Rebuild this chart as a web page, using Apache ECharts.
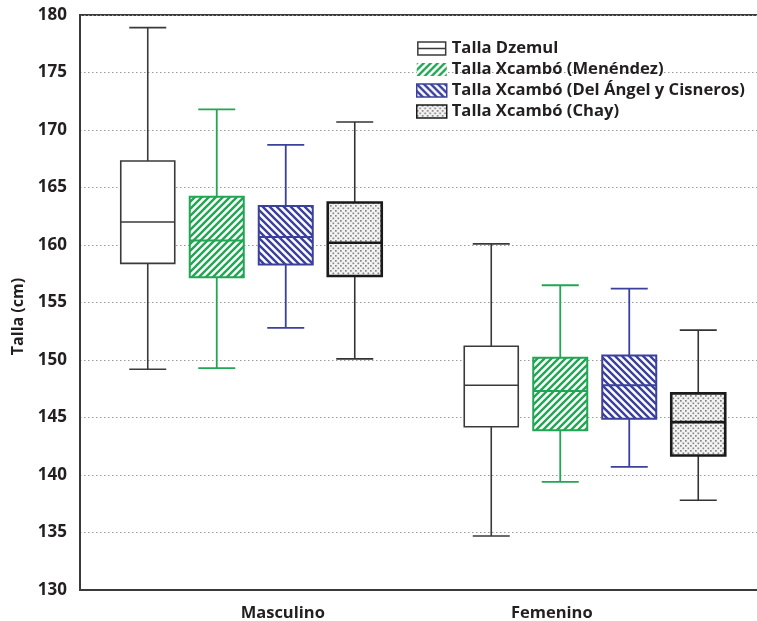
<!DOCTYPE html>
<html>
<head>
<meta charset="utf-8">
<script src="https://cdn.jsdelivr.net/npm/echarts@6/dist/echarts.min.js"></script>
<style>
html,body{margin:0;padding:0;background:#fff;}
#chart{width:757px;height:621px;}
</style>
</head>
<body>
<div id="chart"></div>
<script>
// ---- data ----
const categories = ['Masculino', 'Femenino'];
const seriesNames = ['Talla Dzemul', 'Talla Xcambó (Menéndez)', 'Talla Xcambó (Del Ángel y Cisneros)', 'Talla Xcambó (Chay)'];
// [min, Q1, median, Q3, max] per category
const dzemul   = [[149.2, 158.4, 162.0, 167.3, 178.9], [134.7, 144.2, 147.8, 151.2, 160.1]];
const menendez = [[149.3, 157.2, 160.4, 164.2, 171.8], [139.4, 143.9, 147.3, 150.2, 156.5]];
const delAngel = [[152.8, 158.3, 160.7, 163.4, 168.7], [140.7, 144.9, 147.8, 150.4, 156.2]];
const chay     = [[150.1, 157.3, 160.2, 163.7, 170.7], [137.8, 141.7, 144.6, 147.1, 152.6]];
const yTicks = [130, 135, 140, 145, 150, 155, 160, 165, 170, 175, 180];

// ---- styles ----
const FONT = '"Open Sans", sans-serif';
const TEXT = '#231f20';
const BOX_W = 54, CAP_W = 37;
const OFFSETS = [-104, -35, 34, 103];

function stripes(color, dir) {
  const s = 7, c = document.createElement('canvas');
  c.width = s; c.height = s;
  const x = c.getContext('2d');
  x.fillStyle = '#fff'; x.fillRect(0, 0, s, s);
  x.strokeStyle = color; x.lineWidth = 2.4;
  x.beginPath();
  if (dir === '/') {
    x.moveTo(0, s); x.lineTo(s, 0);
    x.moveTo(-1, 1); x.lineTo(1, -1);
    x.moveTo(s - 1, s + 1); x.lineTo(s + 1, s - 1);
  } else {
    x.moveTo(0, 0); x.lineTo(s, s);
    x.moveTo(-1, s - 1); x.lineTo(1, s + 1);
    x.moveTo(s - 1, -1); x.lineTo(s + 1, 1);
  }
  x.stroke();
  return { image: c, repeat: 'repeat' };
}
function dots() {
  const s = 5, c = document.createElement('canvas');
  c.width = s; c.height = s;
  const x = c.getContext('2d');
  x.fillStyle = '#f3f3f3'; x.fillRect(0, 0, s, s);
  x.fillStyle = '#858585';
  x.fillRect(0, 0, 1.7, 1.7);
  x.fillRect(2.5, 2.5, 1.7, 1.7);
  return { image: c, repeat: 'repeat' };
}

const STYLES = [
  { stroke: '#3a3a3a', fill: '#ffffff', box: 1.6, med: 1.6, wh: 1.6, boxStroke: '#3a3a3a' },
  { stroke: '#21a653', fill: stripes('#21a653', '/'), box: 2, med: 2, wh: 1.8, boxStroke: '#21a653' },
  { stroke: '#3b409c', fill: stripes('#3b409c', '\\'), box: 2, med: 2, wh: 1.8, boxStroke: '#3b409c' },
  { stroke: '#333333', fill: dots(), box: 2.6, med: 2.6, wh: 1.6, boxStroke: '#1a1a1a' }
];

function toData(arr) {
  return arr.map((v, i) => [i].concat(v));
}

function renderItem(params, api) {
  const st = STYLES[params.seriesIndex];
  const cat = api.value(0);
  const cx = api.coord([cat, 150])[0] + OFFSETS[params.seriesIndex];
  const y = k => api.coord([cat, api.value(k)])[1];
  const yMin = y(1), yQ1 = y(2), yMed = y(3), yQ3 = y(4), yMax = y(5);
  const hw = BOX_W / 2, cw = CAP_W / 2;
  const ls = { stroke: st.stroke, lineWidth: st.wh };
  return {
    type: 'group',
    children: [
      { type: 'line', shape: { x1: cx, y1: yMax, x2: cx, y2: yQ3 }, style: ls },
      { type: 'line', shape: { x1: cx, y1: yQ1, x2: cx, y2: yMin }, style: ls },
      { type: 'line', shape: { x1: cx - cw, y1: yMax, x2: cx + cw, y2: yMax }, style: ls },
      { type: 'line', shape: { x1: cx - cw, y1: yMin, x2: cx + cw, y2: yMin }, style: ls },
      { type: 'rect', shape: { x: cx - hw, y: yQ3, width: BOX_W, height: yQ1 - yQ3 },
        style: { fill: st.fill, stroke: st.boxStroke, lineWidth: st.box } },
      { type: 'line', shape: { x1: cx - hw, y1: yMed, x2: cx + hw, y2: yMed },
        style: { stroke: st.boxStroke, lineWidth: st.med } }
    ]
  };
}

const allData = [dzemul, menendez, delAngel, chay];

const chart = echarts.init(document.getElementById('chart'), null, { renderer: 'canvas' });
chart.setOption({
  animation: false,
  backgroundColor: '#ffffff',
  textStyle: { fontFamily: FONT },
  grid: { left: 80, top: 15, right: -10, bottom: 31, containLabel: false, outerBoundsMode: 'none',
          show: true, borderColor: '#3a3a3a', borderWidth: 2, backgroundColor: 'transparent' },
  legend: {
    orient: 'vertical', left: 416, top: 38, padding: 0, itemGap: 0,
    itemWidth: 30, itemHeight: 13,
    textStyle: { fontFamily: FONT, fontSize: 16.6, fontWeight: 'bold', color: TEXT, lineHeight: 21 },
    data: seriesNames.map((n, i) => ({
      name: n,
      icon: i === 0 ? 'path://M0,0H30V14H0ZM0,7H30' : 'rect',
      itemStyle: { color: STYLES[i].fill, borderColor: STYLES[i].boxStroke, borderWidth: i === 1 ? 0 : 1.5 }
    }))
  },
  xAxis: {
    type: 'category',
    data: categories,
    axisLine: { show: true, lineStyle: { color: '#3a3a3a', width: 2 } },
    axisTick: { show: false },
    splitLine: { show: false },
    axisLabel: {
      margin: 15,
      formatter: (v, i) => '{c' + i + '|' + v + '}',
      rich: {
        c0: { fontFamily: FONT, fontSize: 16.5, fontWeight: 'bold', color: TEXT, padding: [0, 0, 0, 62] },
        c1: { fontFamily: FONT, fontSize: 16.5, fontWeight: 'bold', color: TEXT, padding: [0, 87, 0, 0] }
      }
    }
  },
  yAxis: {
    type: 'value', min: yTicks[0], max: yTicks[yTicks.length - 1], interval: yTicks[1] - yTicks[0],
    name: 'Talla (cm)', nameLocation: 'middle', nameGap: 54,
    nameTextStyle: { fontFamily: FONT, fontSize: 16, fontWeight: 'bold', color: TEXT, padding: [0, 28, 0, 0] },
    axisLine: { show: true, lineStyle: { color: '#3a3a3a', width: 2 } },
    axisTick: { show: false },
    axisLabel: { margin: 13, fontFamily: FONT, fontSize: 17, fontWeight: 'bold', color: TEXT },
    splitLine: { show: true, lineStyle: { color: '#9a9a9a', width: 1, type: [1.5, 2.5] } }
  },
  series: seriesNames.map((n, i) => ({
    name: n,
    type: 'custom',
    renderItem: renderItem,
    itemStyle: { color: STYLES[i].fill, borderColor: STYLES[i].boxStroke },
    encode: { x: 0, y: [1, 2, 3, 4, 5] },
    data: toData(allData[i])
  }))
});
</script>
</body>
</html>
